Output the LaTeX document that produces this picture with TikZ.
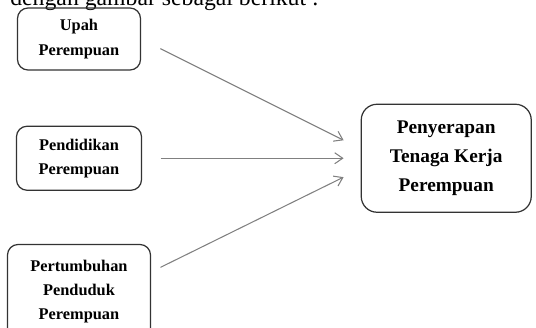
\documentclass[tikz,border=0pt]{standalone}
\usepackage{fontspec}
\setmainfont{Liberation Serif}
\usetikzlibrary{arrows.meta,positioning}
\definecolor{boxline}{HTML}{333333}
\definecolor{arrowgray}{HTML}{808080}

\begin{document}
\begin{tikzpicture}[
node distance=1.1cm and 4.37cm,
box/.style={draw=boxline, line width=0.7pt, rounded corners=6pt, align=center, inner sep=2pt, font=\fontsize{9.3}{13.8}\selectfont\bfseries},
bigbox/.style={box, rounded corners=9pt, minimum width=3.4cm, minimum height=2.16cm, font=\fontsize{11}{16.6}\selectfont\bfseries},
arrow/.style={-{Straight Barb[length=1.6mm, width=2.2mm]}, draw=arrowgray, line width=0.6pt}
]
\useasboundingbox (0,0) rectangle (10.72,-6.54);
\node[anchor=base west, inner sep=0pt, font=\fontsize{13.5}{15}\selectfont] (intro) at (0.2,-0.1) {dengan gambar sebagai berikut :};
\node[box, minimum width=2.46cm, minimum height=1.24cm] (upah) at (1.58,-0.78) {Upah\\Perempuan};
\node[box, minimum width=2.5cm, minimum height=1.28cm, below=of upah] (pendidikan) {Pendidikan\\Perempuan};
\node[box, minimum width=2.86cm, minimum height=1.88cm, below=1.06cm of pendidikan] (pertumbuhan) {Pertumbuhan\\Penduduk\\Perempuan};
\node[bigbox, right=of pendidikan] (penyerapan) {Penyerapan\\Tenaga Kerja\\Perempuan};
\draw[arrow, shorten <=0.43cm, shorten >=0.38cm] (upah.east) -- ([yshift=0.19cm]penyerapan.west);
\draw[arrow, shorten <=0.37cm, shorten >=0.34cm] (pendidikan) -- (penyerapan);
\draw[arrow, shorten <=0.21cm, shorten >=0.38cm] ([yshift=0.39cm]pertumbuhan.east) -- ([yshift=-0.21cm]penyerapan.west);
\end{tikzpicture}
\end{document}
